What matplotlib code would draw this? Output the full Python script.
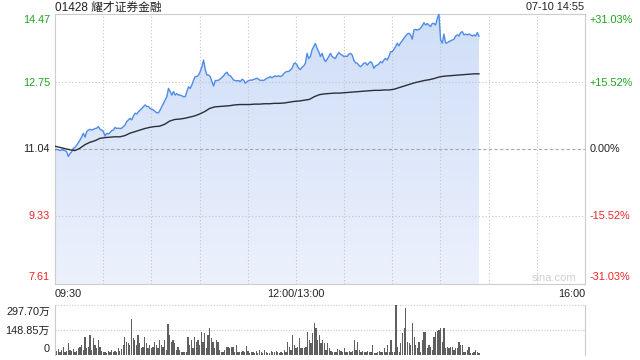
import numpy as np
import matplotlib
matplotlib.use('Agg')
import matplotlib.pyplot as plt
from matplotlib.colors import LinearSegmentedColormap

plt.rcParams['font.family'] = ['Liberation Sans', 'Noto Sans CJK SC', 'DejaVu Sans']

# ---------------- data ----------------
title = "01428 耀才证券金融"
stamp = "07-10 14:55"
prev_close = 11.04
price_ticks = [14.47, 12.75, 11.04, 9.33, 7.61]
pct_labels = ["+31.03%", "+15.52%", "0.00%", "-15.52%", "-31.03%"]
vol_ticks = [297.70, 148.85, 0]
vol_labels = ["297.70万", "148.85万", "0"]
time_labels = ["09:30", "12:00/13:00", "16:00"]
time_label_min = [0, 150, 330]
session_minutes = 330
last_minute = 264

price = [
    11.02, 11.03, 11.02, 11.00, 11.02, 11.01, 11.00, 10.97, 10.85, 10.93,
    10.97, 11.06, 11.08, 11.14, 11.20, 11.27, 11.35, 11.44, 11.34, 11.48,
    11.52, 11.54, 11.52, 11.54, 11.56, 11.57, 11.61, 11.54, 11.52, 11.48,
    11.37, 11.44, 11.42, 11.46, 11.51, 11.52, 11.59, 11.56, 11.57, 11.56,
    11.57, 11.61, 11.65, 11.74, 11.78, 11.82, 11.78, 11.88, 11.95, 11.93,
    11.99, 12.03, 12.07, 12.12, 12.16, 12.12, 12.12, 12.07, 12.05, 12.03,
    11.99, 11.96, 11.96, 12.03, 12.12, 12.20, 12.29, 12.37, 12.58, 12.50,
    12.41, 12.50, 12.41, 12.45, 12.41, 12.41, 12.39, 12.37, 12.37, 12.50,
    12.62, 12.58, 12.67, 12.79, 12.88,
    12.88, 12.92, 13.01, 13.13, 13.30, 13.06, 12.92, 12.92, 12.88, 12.75,
    12.64, 12.78, 12.78, 12.79, 12.82, 12.86, 12.90, 12.96, 12.99, 12.92,
    12.90, 12.85, 12.79, 12.78, 12.77, 12.78, 12.75, 12.81, 12.79, 12.71,
    12.75, 12.78, 12.79, 12.79, 12.81, 12.82, 12.84, 12.81, 12.78, 12.79,
    12.78, 12.81, 12.84, 12.85, 12.88, 12.85, 12.88, 12.90, 12.88, 12.90,
    12.88, 12.90, 12.95, 12.99, 13.01, 13.01, 13.05, 13.09, 13.20, 13.23,
    13.17, 13.09, 13.06, 13.12, 13.15, 13.22, 13.47, 13.34, 13.39, 13.56,
    13.64, 13.72, 13.60, 13.51, 13.39, 13.47, 13.34, 13.26, 13.32, 13.39,
    13.47, 13.39, 13.36,
    13.34, 13.43, 13.49, 13.45, 13.43, 13.39, 13.40, 13.39, 13.45, 13.47,
    13.43, 13.30, 13.23, 13.22, 13.17, 13.13, 13.17, 13.22, 13.23, 13.17,
    13.22, 13.26, 13.22, 13.09, 13.15, 13.17, 13.20, 13.26, 13.23, 13.30,
    13.34, 13.30, 13.39, 13.51, 13.51, 13.57, 13.64, 13.73, 13.66, 13.74,
    13.79, 13.85, 13.91, 13.96, 13.98, 13.94, 13.83, 14.06, 14.08, 14.06,
    14.08, 14.11, 14.17, 14.25, 14.19, 14.23, 14.19, 14.15, 14.23, 14.23,
    14.19, 14.36, 14.47, 13.81, 13.73, 13.96, 13.73, 13.74, 13.77, 13.79,
    13.81, 13.83, 13.91, 13.94, 13.91, 14.00, 14.02, 13.94, 13.96, 13.94,
    13.96, 13.94, 13.91, 13.94, 13.91, 14.00, 13.91,
]

avg_price = [
    11.11, 11.08, 11.05, 11.02, 11.00, 11.06, 11.15, 11.21, 11.25, 11.31,
    11.33, 11.34, 11.35, 11.35, 11.38, 11.44, 11.48, 11.52, 11.56, 11.59,
    11.61, 11.62, 11.67, 11.75, 11.79, 11.80, 11.82, 11.85, 11.88,
    11.93, 11.99, 12.07, 12.11, 12.12, 12.13, 12.14, 12.16, 12.17, 12.17,
    12.17, 12.18, 12.18, 12.19, 12.19, 12.20, 12.20, 12.21, 12.23, 12.25,
    12.26, 12.28, 12.30, 12.37, 12.42, 12.44, 12.45,
    12.46, 12.46, 12.47, 12.48, 12.49, 12.50, 12.51, 12.52, 12.53, 12.53,
    12.54, 12.54, 12.56, 12.60, 12.64, 12.68, 12.72, 12.75, 12.78, 12.80,
    12.83, 12.87, 12.89, 12.90, 12.91, 12.92, 12.93, 12.94, 12.95, 12.95,
]

volume = [  # 万股
    95, 24, 36, 20, 30, 50, 16, 24, 73, 30, 24, 36, 20, 24, 40, 50, 60, 30, 109, 40,
    50, 119, 30, 99, 60, 40, 89, 50, 24, 20, 16, 10, 24, 16, 30, 20, 24, 16, 40, 24,
    36, 60, 109, 79, 69, 60, 214, 99, 89, 60, 119, 69, 40, 50, 109, 69, 40, 60, 40, 50,
    79, 60, 40, 89, 60, 50, 89,
    30, 183, 119, 79, 89, 69, 30, 50, 30, 20, 20, 20, 16, 109, 60, 89, 40, 109, 79, 89,
    60, 139, 79, 129, 40, 119, 163, 99, 79, 40, 89, 79, 30, 20, 16, 30, 50, 50, 40, 50,
    50, 16, 60, 20, 16, 20, 24, 20, 56, 24, 10, 20, 16, 10, 24, 10, 30, 16, 10, 30,
    16, 10, 10, 24, 16, 20, 24, 16, 10, 20, 10, 30, 20, 79, 50, 30, 119, 60, 40, 50,
    99, 40, 40, 40, 50, 139, 89, 69, 129, 193, 159, 89, 119, 69, 89, 69,
    30, 69, 40, 24, 16, 20, 16, 36, 30, 24, 20, 40, 20, 16, 24, 16, 24, 89, 30, 79,
    30, 20, 24, 16, 20, 24, 16, 20, 60, 10, 10, 20, 24, 16, 20, 40, 16, 60, 20, 89,
    20, 20, 297.7, 50, 20, 69, 129, 159, 282, 79, 69, 60, 189, 109, 60, 40, 79, 20, 89, 139,
    139, 40, 60, 50, 30, 109, 139, 143, 149, 159, 75, 159, 40, 50, 40, 50, 50, 30, 44, 40,
    79, 60, 60, 20, 20, 30, 50, 10, 10, 20, 30, 20, 10,
]

# ---------------- layout ----------------
W, H = 640, 360
fig = plt.figure(figsize=(W / 100, H / 100), dpi=100)


def rect(l, t, r, b):
    return [l / W, 1 - b / H, (r - l) / W, (b - t) / H]


def fx(x):
    return x / W


def fy(y):
    return 1 - y / H


GREEN = '#1ea31e'
RED = '#f02424'
DARK = '#222222'
label_colors = [GREEN, GREEN, DARK, RED, RED]
FS = 7.8

ax = fig.add_axes(rect(55, 14, 585, 284))
axv = fig.add_axes(rect(55, 305, 585, 355))

t_price = np.linspace(0, last_minute, len(price))
t_avg = np.linspace(0, last_minute, len(avg_price))
t_vol = np.linspace(0, last_minute, len(volume))

ymin, ymax = price_ticks[-1], price_ticks[0]

# gradient fill under price
poly = ax.fill_between(t_price, price, ymin, color='none', lw=0)
grad = np.linspace(0, 1, 256).reshape(-1, 1)
cmap = LinearSegmentedColormap.from_list('g', ['#ecf1fc', '#cfdef8'])
im = ax.imshow(grad, extent=[0, session_minutes, ymin, ymax], origin='lower',
               aspect='auto', cmap=cmap, zorder=1)
im.set_clip_path(poly.get_paths()[0], transform=ax.transData)

# grid (drawn over the fill, as in the reference)
for m in range(30, session_minutes, 30):
    ax.axvline(m, color='#c4c4c4', lw=0.8, ls=(0, (1, 2)), zorder=2)
for v in price_ticks[1:-1]:
    if abs(v - prev_close) < 1e-9:
        ax.axhline(v, color='#a8a8a8', lw=0.8, ls=(0, (3, 2)), zorder=2)
    else:
        ax.axhline(v, color='#c4c4c4', lw=0.8, ls=(0, (1, 2)), zorder=2)

ax.plot(t_price, price, color='#4f8be8', lw=1.0, zorder=3)
ax.plot(t_avg, avg_price, color='#2a2e38', lw=1.0, zorder=3)

ax.set_xlim(0, session_minutes)
ax.set_ylim(ymin, ymax)
ax.set_xticks([])
ax.set_yticks([])
for s in ax.spines.values():
    s.set_color('#cccccc')
    s.set_linewidth(0.8)

# price labels
label_y = [20, 83, 149, 216, 277]
for v, py, c, p in zip(price_ticks, label_y, label_colors, pct_labels):
    fig.text(fx(50), fy(py), f"{v:.2f}", ha='right', va='center', fontsize=FS, color=c)
    fig.text(fx(590), fy(py), p, ha='left', va='center', fontsize=FS, color=c)

# watermark
fig.text(fx(576), fy(278), "sina.com", ha='right', va='center', fontsize=8, color='#d0d0d0')

# time labels
for lab, m, ha in zip(time_labels, time_label_min, ['left', 'center', 'right']):
    xpix = 55 + m / session_minutes * 530
    fig.text(fx(xpix), fy(294), lab, ha=ha, va='center', fontsize=FS, color=DARK)

# title & stamp
fig.text(fx(55), fy(7.5), title, ha='left', va='center', fontsize=8.5, color=DARK)
fig.text(fx(584), fy(7.5), stamp, ha='right', va='center', fontsize=FS, color=DARK)

# volume panel
axv.bar(t_vol, volume, width=0.8, color='#5f5f5f', zorder=2)
axv.set_xlim(0, session_minutes)
axv.set_ylim(0, vol_ticks[0])
axv.axhline(vol_ticks[0], color='#c8c8c8', lw=0.8, ls=(0, (1, 1.5)), zorder=1, clip_on=False)
axv.axhline(vol_ticks[1], color='#c8c8c8', lw=0.8, ls=(0, (1, 1.5)), zorder=1)
axv.set_xticks([])
axv.set_yticks([])
for k in ['top', 'bottom']:
    axv.spines[k].set_visible(False)
for k in ['left', 'right']:
    axv.spines[k].set_color('#cccccc')
    axv.spines[k].set_linewidth(0.8)

vol_label_y = [312, 331, 349]
for lab, py in zip(vol_labels, vol_label_y):
    fig.text(fx(50), fy(py), lab, ha='right', va='center', fontsize=FS, color=DARK)

fig.savefig('out.png', dpi=100)
